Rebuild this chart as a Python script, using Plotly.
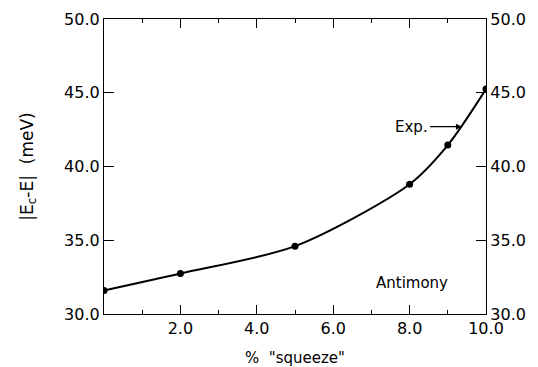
import plotly.graph_objects as go

# data
squeeze_pct = [0, 2, 5, 8, 9, 10]
energy_mev = [31.6, 32.75, 34.6, 38.8, 41.45, 45.25]

x_tickvals = [2, 4, 6, 8, 10]
x_ticktext = ["2.0", "4.0", "6.0", "8.0", "10.0"]
x_minor = [1, 3, 5, 7, 9]
y_tickvals = [30, 35, 40, 45, 50]
y_ticktext = ["30.0", "35.0", "40.0", "45.0", "50.0"]

FONT = "DejaVu Sans"
tick_font = dict(family=FONT, size=16, color="black")

fig = go.Figure()
fig.add_trace(go.Scatter(
    x=squeeze_pct, y=energy_mev, mode="lines+markers",
    line=dict(color="black", width=2, shape="spline", smoothing=0.8),
    marker=dict(color="black", size=7),
    showlegend=False, hoverinfo="skip",
))
# invisible trace to activate right axis
fig.add_trace(go.Scatter(
    x=squeeze_pct, y=energy_mev, yaxis="y2", mode="markers",
    marker=dict(opacity=0), showlegend=False, hoverinfo="skip",
))

axis_common = dict(showline=True, linecolor="black", linewidth=1.2,
                   ticks="inside", tickcolor="black", tickwidth=1.2,
                   showgrid=False, zeroline=False, automargin=False)

fig.update_layout(
    width=538, height=367,
    margin=dict(l=104, r=52, t=19, b=53),
    paper_bgcolor="white", plot_bgcolor="white",
    xaxis=dict(range=[0, 10], tickvals=x_tickvals, ticktext=x_ticktext,
               ticklen=9, mirror="ticks", tickfont=tick_font,
               minor=dict(tickvals=x_minor, ticklen=4, ticks="inside",
                          tickcolor="black", tickwidth=1.2),
               title=dict(text='%  "squeeze"', font=dict(family=FONT, size=15, color="black"),
                          standoff=20),
               **axis_common),
    yaxis=dict(range=[30, 50], tickvals=y_tickvals, ticktext=y_ticktext,
               ticklen=10, mirror=True, tickfont=tick_font,
               title=dict(text="|E<sub>c</sub>-E|  (meV)",
                          font=dict(family=FONT, size=17, color="black"),
                          standoff=26),
               **axis_common),
    yaxis2=dict(range=[30, 50], tickvals=y_tickvals, ticktext=y_ticktext,
                ticklen=10, overlaying="y", side="right", tickfont=tick_font,
                **axis_common),
    annotations=[
        dict(x=9.37, y=42.7, xref="x", yref="y", text="Exp.",
             showarrow=True, arrowhead=2, arrowsize=1, arrowwidth=1.2,
             arrowcolor="black", ax=-50, ay=0,
             font=dict(family=FONT, size=15, color="black")),
        dict(x=8.05, y=32.1, xref="x", yref="y", text="Antimony",
             showarrow=False, font=dict(family=FONT, size=15, color="black")),
    ],
)

fig.write_html("out.html")
